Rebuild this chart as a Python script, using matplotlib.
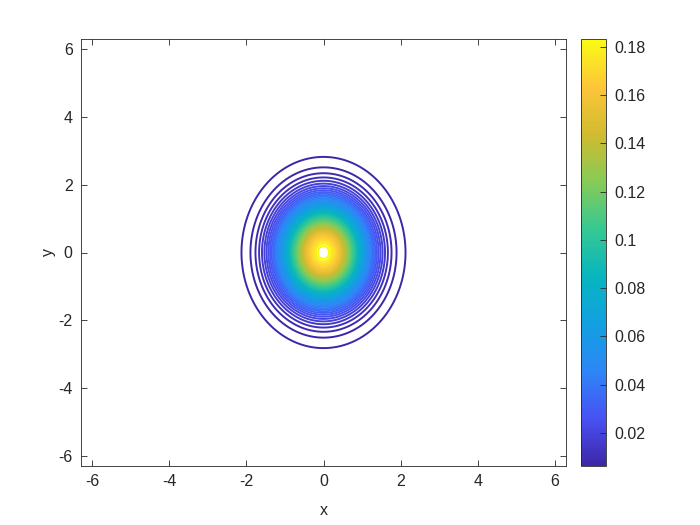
"""Contour plot of a 2-D Gaussian bump with a parula-style colorbar (MATLAB look)."""
import matplotlib

matplotlib.use("Agg")
import matplotlib.pyplot as plt
import numpy as np
from matplotlib.colors import LinearSegmentedColormap, Normalize
from matplotlib.cm import ScalarMappable


# field parameters
PEAK = 0.1850
SIGMA_X = 0.71
SIGMA_Y = 0.94
LEVEL_START = 0.0021
LEVEL_STEP = 0.0032
CLIM = (0.0063, 0.1833)
X_TICKS = [-6, -4, -2, 0, 2, 4, 6]
Y_TICKS = [-6, -4, -2, 0, 2, 4, 6]
CB_TICKS = [0.02, 0.04, 0.06, 0.08, 0.1, 0.12, 0.14, 0.16, 0.18]

PARULA = [
    (0.2422, 0.1504, 0.6603),
    (0.2810, 0.3228, 0.9579),
    (0.1786, 0.5289, 0.9682),
    (0.0689, 0.6279, 0.8825),
    (0.0265, 0.7106, 0.7480),
    (0.2147, 0.7857, 0.5723),
    (0.5300, 0.7960, 0.3370),
    (0.8185, 0.7327, 0.1882),
    (0.9949, 0.7753, 0.2250),
    (0.9769, 0.9839, 0.0805),
]

TEXT = "#262626"

plt.rcParams.update(
    {
        "font.family": ["Liberation Sans", "DejaVu Sans"],
        "font.size": 11.5,
        "axes.unicode_minus": False,
        "text.color": TEXT,
        "axes.labelcolor": TEXT,
        "xtick.color": TEXT,
        "ytick.color": TEXT,
        "axes.edgecolor": TEXT,
    }
)

cmap = LinearSegmentedColormap.from_list("parula", PARULA, N=256)
norm = Normalize(*CLIM)

lim = 2 * np.pi
x = np.linspace(-lim, lim, 800)
y = np.linspace(-lim, lim, 800)
X, Y = np.meshgrid(x, y)
Z = PEAK * np.exp(-(X**2 / (2 * SIGMA_X**2) + Y**2 / (2 * SIGMA_Y**2)))
levels = np.arange(LEVEL_START, PEAK - 0.0028, LEVEL_STEP)

fig = plt.figure(figsize=(7, 5.25), dpi=100)
ax = fig.add_axes([81 / 700, 59 / 525, 485 / 700, 427 / 525])
cax = fig.add_axes([581 / 700, 59 / 525, 25 / 700, 427 / 525])

ax.contour(X, Y, Z, levels=levels, cmap=cmap, norm=norm, linewidths=1.4)
ax.set_xlim(-lim, lim)
ax.set_ylim(-lim, lim)
ax.set_xticks(X_TICKS)
ax.set_yticks(Y_TICKS)
ax.tick_params(direction="in", top=True, right=True, length=4, width=0.6, pad=6)
for spine in ax.spines.values():
    spine.set_linewidth(0.6)
ax.set_xlabel("x", labelpad=10)
ax.set_ylabel("y", labelpad=2)

cb = fig.colorbar(ScalarMappable(norm=norm, cmap=cmap), cax=cax)
cb.set_ticks(CB_TICKS)
cb.set_ticklabels([f"{t:g}" for t in CB_TICKS])
cb.ax.tick_params(direction="in", length=4, width=0.6, pad=6)
cb.outline.set_linewidth(0.6)

fig.savefig("out.png", dpi=100)
